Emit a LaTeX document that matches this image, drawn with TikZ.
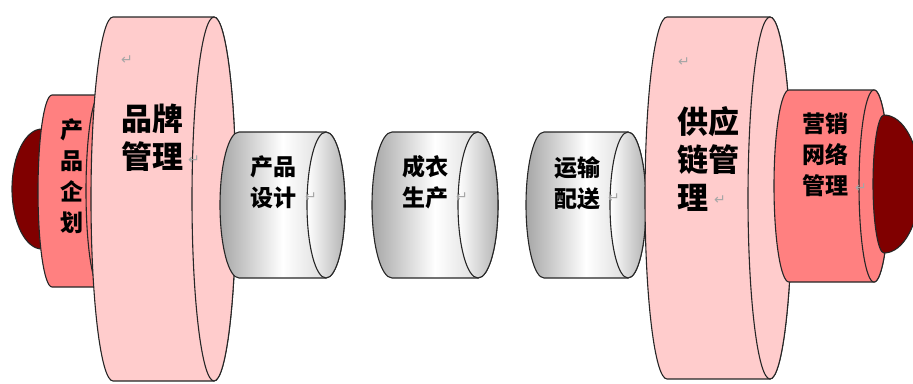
\documentclass[tikz,border=0pt]{standalone}
\usepackage{fontspec}
\newfontfamily\cjk{Noto Sans CJK SC}
\newfontfamily\symfont{DejaVu Sans}

\definecolor{pinkwall}{RGB}{255,204,204}
\definecolor{redwall}{RGB}{255,128,128}
\definecolor{domered}{RGB}{128,0,0}

\tikzset{shell/.style={draw=black!85,line width=1.1pt,line join=round}}
\tikzset{pinktube/.style={shell,fill=pinkwall}}
\tikzset{redtube/.style={shell,fill=redwall}}
\tikzset{greytube/.style={shell,left color=gray!70,right color=gray!40,middle color=white}}
\tikzset{greyface/.style={shell,left color=white,right color=gray!60}}
\tikzset{dome/.style={shell,fill=domered}}
\tikzset{bigtext/.style={font=\cjk\bfseries\fontsize{31}{38}\selectfont,align=center,inner sep=0pt}}
\tikzset{smalltext/.style={font=\cjk\bfseries\fontsize{23}{31}\selectfont,align=center,inner sep=0pt}}
\tikzset{retmark/.style={font=\symfont\fontsize{14}{14}\selectfont,text=gray!70,inner sep=0pt}}

% drum lying on its side: left x, right x, centre y, half height, end radius, body style, face style
\newcommand{\drum}[7]{%
  \path[#6] (#1,#3-#4) -- (#2,#3-#4)
    arc[start angle=-90,end angle=90,x radius=#5,y radius=#4]
    -- (#1,#3+#4)
    arc[start angle=90,end angle=270,x radius=#5,y radius=#4] -- cycle;
  \path[#7] (#2,#3) ellipse[x radius=#5,y radius=#4];
}

\begin{document}
\begin{tikzpicture}[x=1pt,y=-1pt]
	\useasboundingbox (0,0) rectangle (913,383);
	\clip (0,0) rectangle (913,383);

	% left end
	\path[dome] (42,189) ellipse[x radius=30,y radius=60];
	\drum{52}{100}{191}{96}{14}{redtube}{redtube}
	\drum{113}{214}{199}{182}{22}{pinktube}{pinktube}

	% middle drums
	\drum{239}{326}{205}{73}{19}{greytube}{greyface}
	\drum{392}{478}{205}{73}{20}{greytube}{greyface}
	\drum{544}{628}{205}{73}{18}{greytube}{greyface}

	% right end
	\drum{667}{770}{198}{181}{22}{pinktube}{pinktube}
	\drum{789}{874}{186}{96}{15}{redtube}{redtube}
	\path[dome] (884,115)
		arc[start angle=270,end angle=90,x radius=11,y radius=69]
		arc[start angle=90,end angle=-90,x radius=36,y radius=69] -- cycle;

	% texts
	\node[smalltext] (plan) at (72,176) {产\\品\\企\\划};
	\node[bigtext] (brand) at (152,138) {品牌\\管理};
	\node[retmark] (brandtop) at (127,60) {↵};
	\node[retmark] (brandret) at (194,160) {↵};
	\node[smalltext] (design) at (273,182) {产品\\设计};
	\node[retmark] (designret) at (311,197) {↵};
	\node[smalltext] (make) at (425,182) {成衣\\生产};
	\node[retmark] (makeret) at (462,197) {↵};
	\node[smalltext] (ship) at (577,183) {运输\\配送};
	\node[retmark] (shipret) at (614,198) {↵};
	\node[bigtext,align=left,anchor=west] (supply) at (677,159) {供应\\链管\\理};
	\node[retmark] (supplytop) at (684,62) {↵};
	\node[retmark] (supplyret) at (720,200) {↵};
	\node[smalltext] (sales) at (825,155) {营销\\网络\\管理};
	\node[retmark] (salesret) at (861,188) {↵};

\end{tikzpicture}
\end{document}
